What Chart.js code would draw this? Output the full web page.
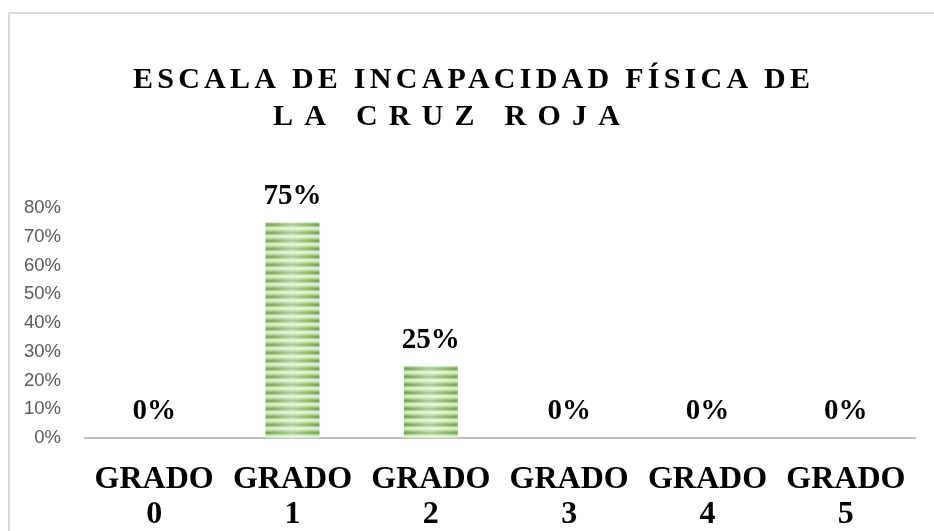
<!DOCTYPE html>
<html>
<head>
<meta charset="utf-8">
<script src="https://cdn.jsdelivr.net/npm/chart.js@4"></script>
<style>
html, body { margin: 0; padding: 0; background: #fff; overflow: hidden; }
#frame { position: absolute; left: 8px; top: 12px; width: 1000px; height: 600px;
	border-left: 2px solid #d9d9d9; border-top: 2px solid #d9d9d9; }
#wrap { position: absolute; left: 0; top: 0; width: 934px; height: 531px; }
</style>
</head>
<body>
<div id="frame"></div>
<div id="wrap"><canvas id="chart"></canvas></div>
<script>
let titleLines = ['ESCALA DE INCAPACIDAD FÍSICA DE', 'LA CRUZ ROJA'];
let categories = [
	['GRADO', '0'],
	['GRADO', '1'],
	['GRADO', '2'],
	['GRADO', '3'],
	['GRADO', '4'],
	['GRADO', '5']
];
let values = [0, 75, 25, 0, 0, 0];
let yMax = 80;
let yStep = 10;

let serif = '"Liberation Serif", "Times New Roman", serif';
let barPct = 0.39;

// striped green fill, lighter in the middle of the bar
function stripePattern(ctx, w) {
	let c = document.createElement('canvas');
	let rows = ['#70ad47', '#6fab45', '#a9d18e', '#c5e0b4', '#e2f0d9', '#c5e0b4', '#a9d18e', '#86bd62'];
	c.width = w;
	c.height = rows.length;
	let g = c.getContext('2d');
	rows.forEach((col, i) => {
		g.fillStyle = col;
		g.fillRect(0, i, w, 1);
	});
	let grad = g.createLinearGradient(0, 0, w, 0);
	grad.addColorStop(0, 'rgba(255,255,255,0)');
	grad.addColorStop(0.5, 'rgba(255,255,255,0.45)');
	grad.addColorStop(1, 'rgba(255,255,255,0)');
	g.fillStyle = grad;
	g.fillRect(0, 0, w, rows.length);
	return ctx.createPattern(c, 'repeat');
}

function barFill(context) {
	let chart = context.chart;
	let xs = chart.scales.x;
	if (!xs || context.dataIndex === undefined) {
		return '#70ad47';
	}
	let w = Math.round(xs.width / categories.length * barPct);
	let x = xs.getPixelForValue(context.dataIndex) - w / 2;
	if (!(w > 0) || !isFinite(x)) {
		return '#70ad47';
	}
	let p = stripePattern(chart.ctx, w);
	p.setTransform(new DOMMatrix().translate(x, 0));
	return p;
}

function spacedLine(ctx, text, left, right, y) {
	ctx.letterSpacing = '0px';
	let w = ctx.measureText(text).width;
	let sp = (right - left - w) / (text.length - 1);
	ctx.letterSpacing = sp + 'px';
	ctx.textAlign = 'left';
	ctx.fillText(text, left, y);
}

// title drawn by hand so it can use letter spacing
let titlePlugin = {
	id: 'spacedTitle',
	afterDraw(chart) {
		let ctx = chart.ctx;
		ctx.save();
		ctx.font = 'bold 30px ' + serif;
		ctx.fillStyle = '#000';
		ctx.textBaseline = 'middle';
		spacedLine(ctx, titleLines[0], 133, 810, 80);
		spacedLine(ctx, titleLines[1], 273, 620, 117);
		ctx.restore();
	}
};

let labelPlugin = {
	id: 'barLabels',
	afterDatasetsDraw(chart) {
		let ctx = chart.ctx;
		let meta = chart.getDatasetMeta(0);
		ctx.save();
		ctx.font = 'bold 29px ' + serif;
		ctx.fillStyle = '#000';
		ctx.textAlign = 'center';
		ctx.textBaseline = 'middle';
		meta.data.forEach((bar, i) => {
			ctx.fillText(values[i] + '%', bar.x, bar.y - 26);
		});
		ctx.restore();
	}
};

let ctx = document.getElementById('chart').getContext('2d');
let chart = new Chart(ctx, {
	type: 'bar',
	data: {
		labels: categories,
		datasets: [{
			data: values,
			backgroundColor: barFill,
			borderWidth: 0,
			categoryPercentage: 1,
			barPercentage: barPct
		}]
	},
	options: {
		responsive: true,
		maintainAspectRatio: false,
		animation: false,
		layout: { padding: { top: 208, right: 19, bottom: 0, left: 0 } },
		plugins: {
			legend: { display: false },
			title: { display: false },
			tooltip: { enabled: false }
		},
		scales: {
			x: {
				grid: { display: false, drawTicks: false },
				border: { display: true, color: '#bfbfbf', width: 2 },
				ticks: {
					color: '#000',
					padding: 24,
					maxRotation: 0,
					autoSkip: false,
					font: { family: serif, size: 32, weight: 'bold', lineHeight: 1.1 }
				},
				afterFit(scale) { scale.height = 93; }
			},
			y: {
				min: 0,
				max: yMax,
				grid: { display: false, drawTicks: false },
				border: { display: false },
				ticks: {
					stepSize: yStep,
					padding: 24,
					color: '#595959',
					font: { family: '"Liberation Sans", Arial, sans-serif', size: 18.5 },
					callback: v => v + '%'
				},
				afterFit(scale) { scale.width = 85; }
			}
		}
	},
	plugins: [titlePlugin, labelPlugin]
});
chart.update();
</script>
</body>
</html>
